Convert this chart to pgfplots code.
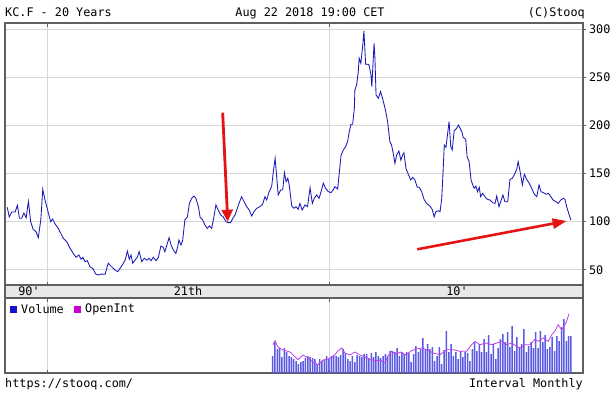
\documentclass[border=0pt]{standalone}
\usepackage{fontspec}
\setmainfont{DejaVu Sans Mono}[Ligatures=TeXOff]
\usepackage{pgfplots}
\usepackage{pgfplotstable}
\pgfplotsset{compat=1.18}
\usetikzlibrary{arrows.meta}
\definecolor{lineblue}{RGB}{25,25,185}
\definecolor{gridgray}{RGB}{215,215,215}
\definecolor{framegray}{RGB}{95,95,95}
\definecolor{bandgray}{RGB}{232,232,232}
\definecolor{volblue}{RGB}{90,90,228}
\definecolor{oimag}{RGB}{190,60,235}
\definecolor{arrowred}{RGB}{228,20,20}
\definecolor{legblue}{RGB}{20,20,200}
\definecolor{legmag}{RGB}{204,0,204}

\pgfplotstableread{
v
17
31
24
25
16
25
21
17
16
14
12
9
11
12
15
17
16
15
14
9
14
12
13
17
14
17
18
17
16
18
24
20
14
12
17
11
18
17
16
19
19
14
20
16
21
17
15
17
19
17
22
22
21
25
17
21
19
21
20
11
19
27
21
24
35
24
29
24
26
12
17
26
9
23
42
21
29
17
21
14
22
16
21
20
12
24
31
22
29
21
34
21
38
19
29
14
25
34
39
31
41
26
47
22
36
26
29
44
21
27
31
25
41
25
42
31
38
24
26
36
22
37
32
46
54
32
37
37
}\voltable

\begin{document}
\fontsize{11.8}{13}\selectfont
\begin{tikzpicture}
\path[use as bounding box] (0,0) rectangle (613pt,392pt);

% main price panel
\begin{axis}[
  at={(5pt,107pt)}, anchor=south west,
  width=578pt, height=262pt, scale only axis,
  xmin=1998.51, xmax=2019.01, ymin=34.2, ymax=306.5,
  axis line style={framegray, line width=1.2pt},
  xtick={2000,2010}, xticklabels={}, xtick align=inside,
  ytick={50,100,150,200,250,300}, ytick pos=right, ytick align=outside,
  yticklabel pos=right,
  major tick length=3.5pt,
  tick style={framegray, line width=0.9pt},
  grid=major, grid style={gridgray, line width=0.8pt},
  /pgf/number format/assume math mode=true,
  yticklabel style={font=\fontsize{11.8}{13}\selectfont, xshift=-1.5pt},
]
\addplot[lineblue, line width=0.85pt] coordinates {
(1998.59,115)(1998.66,105)(1998.75,110)(1998.87,110)(1998.95,117)(1999.02,103.5)(1999.10,103.5)(1999.18,109)(1999.26,104)(1999.34,121)(1999.42,100)(1999.51,92)(1999.61,89.6)(1999.69,83.3)(1999.78,101.8)(1999.85,133.7)(1999.93,122.5)(2000.05,108.7)(2000.13,100)(2000.20,102.8)(2000.28,98)(2000.40,93)(2000.50,87.2)(2000.58,82.7)(2000.70,79.2)(2000.82,72.3)(2000.93,67)(2001.03,63)(2001.13,65.4)(2001.21,61)(2001.27,63)(2001.35,58.4)(2001.43,59.5)(2001.52,53.2)(2001.62,51.5)(2001.73,45.6)(2001.82,44.6)(2001.94,45.6)(2002.06,45.3)(2002.17,56.8)(2002.29,53.2)(2002.41,49.8)(2002.51,48)(2002.59,51.5)(2002.67,55)(2002.77,60)(2002.85,69.5)(2002.92,61)(2002.98,65.4)(2003.04,56.8)(2003.12,60)(2003.20,63)(2003.27,68.8)(2003.36,58.4)(2003.45,62)(2003.54,60)(2003.62,62)(2003.69,59.5)(2003.77,63)(2003.87,59.5)(2003.95,63)(2004.04,74.7)(2004.12,73.4)(2004.18,68.8)(2004.24,74.7)(2004.33,83.4)(2004.40,75.8)(2004.48,70.6)(2004.57,67)(2004.63,73.4)(2004.68,81)(2004.75,75.8)(2004.81,80.3)(2004.89,101.8)(2004.98,105)(2005.05,119)(2005.13,124.3)(2005.21,126.7)(2005.28,124.3)(2005.37,115.6)(2005.43,104.6)(2005.52,101.8)(2005.60,96.6)(2005.68,93.1)(2005.76,95.6)(2005.84,93.1)(2005.92,105)(2005.99,117.4)(2006.07,112.2)(2006.16,107)(2006.25,105)(2006.35,100)(2006.43,99)(2006.51,99)(2006.59,103.5)(2006.67,107)(2006.75,114)(2006.82,119.8)(2006.90,126)(2006.99,120.8)(2007.08,115.6)(2007.17,112.2)(2007.26,106)(2007.34,110.4)(2007.44,114)(2007.55,115.6)(2007.65,118.4)(2007.73,126)(2007.79,122.5)(2007.88,131.2)(2007.97,137)(2008.02,150.3)(2008.09,166)(2008.15,145.1)(2008.20,127.8)(2008.29,133)(2008.36,133)(2008.42,151)(2008.48,141.6)(2008.54,145.1)(2008.59,138.2)(2008.68,116.3)(2008.76,114)(2008.83,115.6)(2008.91,112.9)(2008.97,119)(2009.05,112.2)(2009.15,117.4)(2009.24,115.6)(2009.33,135.4)(2009.41,119)(2009.48,124.3)(2009.56,127.8)(2009.65,124.3)(2009.72,131.2)(2009.80,140)(2009.88,134.7)(2009.98,131.2)(2010.07,130.2)(2010.15,133)(2010.21,136.4)(2010.31,134)(2010.37,152)(2010.43,169.3)(2010.51,174.5)(2010.59,178)(2010.66,183.2)(2010.72,193.6)(2010.78,201.2)(2010.84,201.2)(2010.90,217.9)(2010.92,237)(2010.98,242)(2011.04,256)(2011.07,269.9)(2011.13,264.7)(2011.20,283.7)(2011.24,298.2)(2011.30,263.6)(2011.37,263.6)(2011.42,263)(2011.49,252.5)(2011.52,240.3)(2011.56,263)(2011.60,285.4)(2011.63,270)(2011.67,231.7)(2011.75,228.3)(2011.83,235.2)(2011.90,228.3)(2011.96,221.3)(2012.02,213.7)(2012.08,204)(2012.16,183.2)(2012.22,179.7)(2012.28,171)(2012.34,160.7)(2012.40,169.3)(2012.48,173.5)(2012.55,164)(2012.61,169.3)(2012.66,171.7)(2012.73,155.5)(2012.81,149.6)(2012.90,143.3)(2012.97,146.1)(2013.05,143.3)(2013.13,135.8)(2013.20,135.8)(2013.29,131.2)(2013.37,123.3)(2013.46,119)(2013.58,116.3)(2013.66,112.9)(2013.73,105)(2013.79,110.4)(2013.88,111.4)(2013.94,110.4)(2014.00,124.3)(2014.05,153.7)(2014.09,179.7)(2014.15,177.3)(2014.21,191.9)(2014.26,203.9)(2014.32,178)(2014.37,174.5)(2014.44,194.3)(2014.53,197.1)(2014.59,200.5)(2014.65,197.1)(2014.71,193.6)(2014.76,187.7)(2014.85,185.6)(2014.90,167.6)(2014.97,162.4)(2015.04,143.3)(2015.10,138.2)(2015.15,134.7)(2015.21,137)(2015.27,131.2)(2015.33,135.8)(2015.38,126)(2015.45,129.5)(2015.53,126)(2015.61,123.3)(2015.71,122.5)(2015.81,119.8)(2015.89,119)(2015.95,126.7)(2016.03,115.6)(2016.10,121.5)(2016.17,127.8)(2016.24,120.8)(2016.34,120.8)(2016.42,144)(2016.50,145.1)(2016.57,148.6)(2016.66,154.5)(2016.71,162.4)(2016.77,153.7)(2016.86,138.2)(2016.93,149.3)(2017.01,144)(2017.10,140)(2017.19,134.7)(2017.28,128.8)(2017.37,126)(2017.45,138.2)(2017.52,131.2)(2017.60,130.2)(2017.70,128.5)(2017.78,129.5)(2017.87,126)(2017.95,122.5)(2018.05,120.8)(2018.13,119)(2018.22,122.5)(2018.31,124.3)(2018.37,123.3)(2018.43,115.6)(2018.51,108)(2018.58,101.8)
};
\draw[arrowred, line width=2.8pt, -{Triangle[length=12pt,width=11pt]}]
  (axis cs:2006.23,213.3) -- (axis cs:2006.41,100);
\draw[arrowred, line width=2.6pt, -{Triangle[length=14pt,width=10pt]}]
  (axis cs:2013.13,71.3) -- (axis cs:2018.43,100.7);
\end{axis}

% volume panel
\begin{axis}[
  at={(5pt,19pt)}, anchor=south west,
  width=578pt, height=75pt, scale only axis,
  xmin=1998.51, xmax=2019.01, ymin=0, ymax=75,
  axis line style={framegray, line width=1.2pt},
  xtick={2000,2010}, xticklabels={}, xtick align=inside,
  major tick length=3.5pt,
  tick style={framegray, line width=0.9pt},
  ytick=\empty,
  xmajorgrids, grid style={gridgray, line width=0.8pt},
]
\addplot[ybar, bar width=1.5pt, fill=volblue, draw=none]
  table[x expr=2008+\coordindex/12, y=v] {\voltable};
\addplot[oimag, line width=0.8pt] coordinates {
(2008.01,28.3)(2008.09,32.3)(2008.19,26)(2008.37,23)(2008.62,21)(2008.90,13.3)(2009.08,18)(2009.26,15)(2009.43,11)(2009.61,8.3)(2009.79,13)(2009.96,14)(2010.14,16)(2010.32,22)(2010.45,25)(2010.57,20)(2010.74,18)(2010.92,21)(2011.10,18)(2011.28,16)(2011.45,14)(2011.63,12)(2011.81,13)(2011.99,10)(2012.09,17)(2012.22,21.7)(2012.38,19)(2012.55,21)(2012.73,18)(2012.91,22)(2013.09,24)(2013.29,25)(2013.46,23.3)(2013.70,20)(2013.94,18.3)(2014.17,23.3)(2014.41,23.3)(2014.65,21.7)(2014.88,21.7)(2015.06,28.3)(2015.18,31.7)(2015.35,28.3)(2015.59,30)(2015.77,28.3)(2015.95,30)(2016.12,31.7)(2016.30,28.3)(2016.48,30)(2016.66,26.7)(2016.77,25)(2016.95,28.3)(2017.13,28.3)(2017.30,33.3)(2017.42,31.7)(2017.60,35)(2017.78,31.7)(2017.90,38.3)(2018.01,41.7)(2018.13,48.3)(2018.25,43.3)(2018.37,48.3)(2018.43,51.7)(2018.51,59)
};
\end{axis}

% date band
\fill[bandgray] (5pt,94pt) rectangle (583pt,107pt);
\draw[framegray, line width=1.2pt] (5pt,94pt) rectangle (583pt,107pt);
\node[anchor=center, inner sep=0pt] at (29pt,100.5pt) {90'};
\node[anchor=center, inner sep=0pt] at (188pt,100.5pt) {21th};
\node[anchor=center, inner sep=0pt] at (457pt,100.5pt) {10'};

% volume legend
\fill[legblue] (10pt,79.5pt) rectangle (17pt,86.5pt);
\node[anchor=west, inner sep=0pt] at (21pt,83pt) {Volume};
\fill[legmag] (74pt,79.5pt) rectangle (81pt,86.5pt);
\node[anchor=west, inner sep=0pt] at (85pt,83pt) {OpenInt};

% header and footer
\node[anchor=base west, inner sep=0pt] at (5pt,375pt) {KC.F - 20 Years};
\node[anchor=base, inner sep=0pt] at (310pt,375pt) {Aug 22 2018 19:00 CET};
\node[anchor=base east, inner sep=0pt] at (585pt,375pt) {(C)Stooq};
\node[anchor=base west, inner sep=0pt] at (5pt,5pt) {https://stooq.com/};
\node[anchor=base east, inner sep=0pt] at (583pt,5pt) {Interval Monthly};
\end{tikzpicture}
\end{document}
